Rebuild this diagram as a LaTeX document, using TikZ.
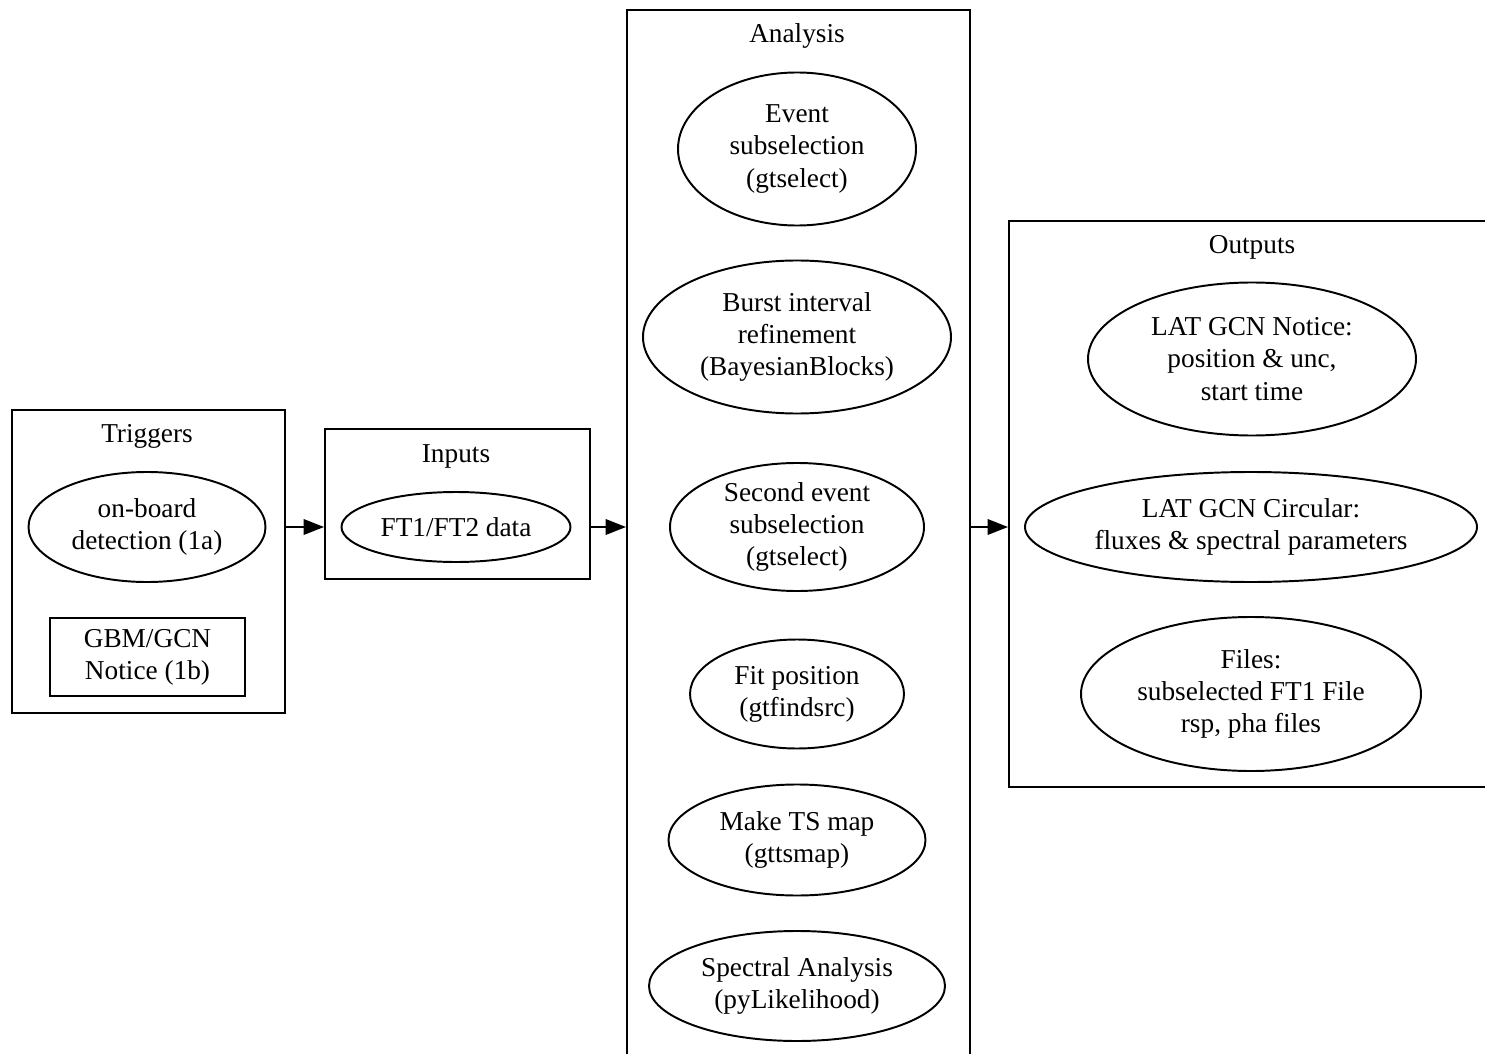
\documentclass[tikz,border=0pt]{standalone}
\usepackage{fontspec}
\setmainfont{Liberation Serif}
\usepackage{tikz}
\usetikzlibrary{shapes.geometric, arrows.meta}
\usetikzlibrary{positioning}

\begin{document}
\begin{tikzpicture}[x=0.513pt, y=-0.513pt,
        process/.style={ellipse,draw=black, line width=1pt, inner sep=0pt, align=center},
        notice/.style={rectangle,draw=black, line width=1pt, inner sep=0pt, align=center},
        cluster/.style={rectangle,draw=black, line width=1pt, inner sep=0pt, anchor=north west},
        title/.style={anchor=base},
        flow/.style={-{Triangle[length=10.5pt,width=8pt]}, line width=1pt},
        every node/.style={font=\fontsize{14}{16.5}\selectfont}
        ]
        \def\pxl{0.513pt}
        \useasboundingbox (0,0) rectangle (1485,1054);

        % the four clusters
        \node[cluster, minimum width=273*\pxl, minimum height=303*\pxl] (triggers) at (11,409) {};
        \node[cluster, minimum width=265*\pxl, minimum height=150*\pxl] (inputs) at (324,428) {};
        \node[cluster, minimum width=343*\pxl, minimum height=1071*\pxl] (analysis) at (626,9) {};
        \node[cluster, minimum width=492*\pxl, minimum height=566*\pxl] (outputs) at (1008,220) {};

        \node[title] (triggerst) at (147,442) {Triggers};
        \node[title] (inputst) at (456,462) {Inputs};
        \node[title] (analysist) at (797,43) {Analysis};
        \node[title] (outputst) at (1252,254) {Outputs};

        % triggers and inputs
        \node[process, minimum width=237*\pxl, minimum height=110*\pxl] (onboard) at (147,527) {on-board\\detection (1a)};
        \node[notice, minimum width=195*\pxl, minimum height=78*\pxl] (gbm) at (147.5,657) {GBM/GCN\\Notice (1b)};
        \node[process, minimum width=229*\pxl, minimum height=70*\pxl] (ftdata) at (456,527) {FT1/FT2 data};

        % analysis steps
        \foreach \name/\y/\w/\h/\txt in {
            evsel/149/238/153/{Event\\subselection\\(gtselect)},
            burst/337/308/153/{Burst interval\\refinement\\(BayesianBlocks)},
            secsel/527/254/128/{Second event\\subselection\\(gtselect)},
            fitpos/694/214/109/{Fit position\\(gtfindsrc)},
            tsmap/840/257/111/{Make TS map\\(gttsmap)},
            spec/986/296/110/{Spectral Analysis\\(pyLikelihood)}} {
            \node[process, minimum width=\w*\pxl, minimum height=\h*\pxl] (\name) at (797,\y) {\txt};
        }

        % outputs
        \node[process, minimum width=328*\pxl, minimum height=153*\pxl] (gcnnotice) at (1252,359) {LAT GCN Notice:\\position \& unc,\\start time};
        \node[process, minimum width=452*\pxl, minimum height=110*\pxl] (gcncirc) at (1251,527) {LAT GCN Circular:\\fluxes \& spectral parameters};
        \node[process, minimum width=340*\pxl, minimum height=154*\pxl] (files) at (1251,694) {Files:\\subselected FT1 File\\rsp, pha files};

        \draw[flow] (triggers.east |- onboard) -- (inputs.west |- onboard);
        \draw[flow] (inputs.east |- ftdata) -- (analysis.west |- ftdata);
        \draw[flow] (analysis.east |- secsel) -- (outputs.west |- gcncirc);
\end{tikzpicture}
\end{document}
